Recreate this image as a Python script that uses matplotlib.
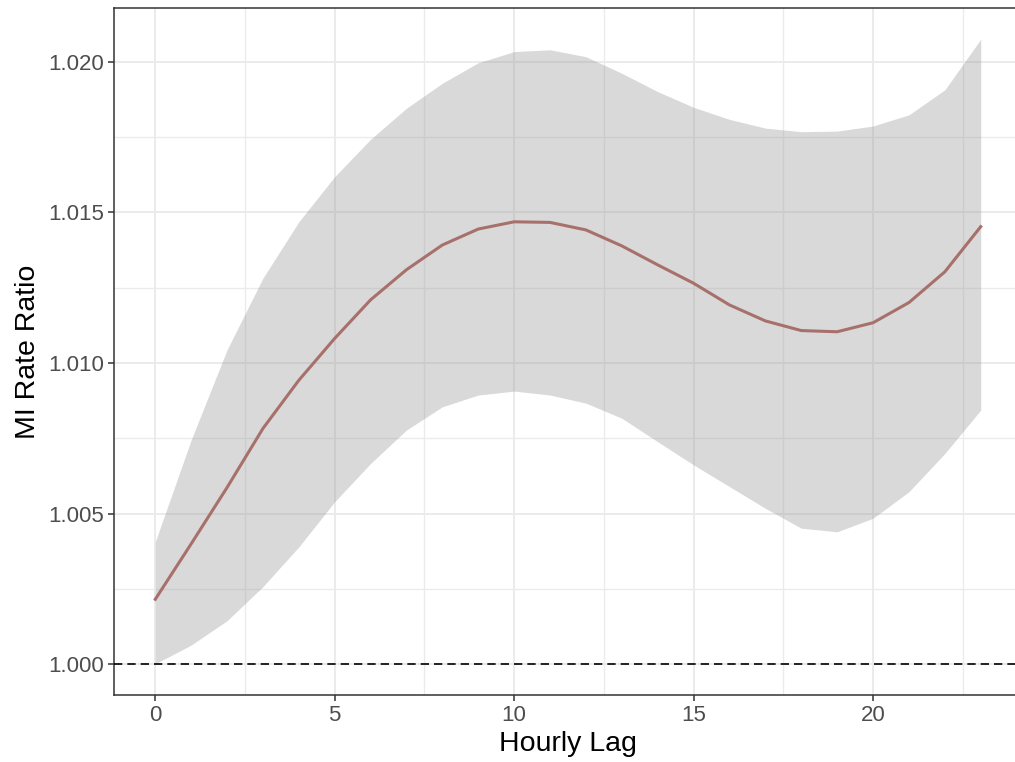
import numpy as np
import matplotlib
matplotlib.use("Agg")
import matplotlib.pyplot as plt
from matplotlib.ticker import MultipleLocator, FormatStrFormatter

plt.rcParams['font.family'] = ['Liberation Sans', 'DejaVu Sans']

# Hourly lag 0..23 with estimated rate ratio and 95% CI
lag = list(range(24))
rr = [1.00216, 1.00400, 1.00587, 1.00783, 1.00943, 1.01082, 1.01210, 1.01310,
      1.01392, 1.01445, 1.01469, 1.01467, 1.01442, 1.01389, 1.01326, 1.01265,
      1.01193, 1.01140, 1.01108, 1.01104, 1.01134, 1.01201, 1.01303, 1.01453]
rr_hi = [1.00407, 1.00745, 1.01044, 1.01282, 1.01469, 1.01619, 1.01743, 1.01846,
         1.01929, 1.01997, 1.02034, 1.02040, 1.02017, 1.01962, 1.01901, 1.01849,
         1.01809, 1.01780, 1.01768, 1.01770, 1.01787, 1.01824, 1.01907, 1.02075]
rr_lo = [1.00002, 1.00064, 1.00145, 1.00258, 1.00390, 1.00540, 1.00667, 1.00778,
         1.00855, 1.00894, 1.00907, 1.00894, 1.00867, 1.00817, 1.00739, 1.00662,
         1.00590, 1.00518, 1.00452, 1.00440, 1.00485, 1.00573, 1.00700, 1.00844]

fig = plt.figure(figsize=(10.15, 7.62), dpi=100)
ax = fig.add_axes([114 / 1015, 67 / 762, 908 / 1015, 687 / 762])

# ribbon + line
ax.fill_between(lag, rr_lo, rr_hi, color='#999999', alpha=0.37, linewidth=0, zorder=2)
ax.plot(lag, rr, color='#A8706B', lw=2.2, zorder=3)
ax.axhline(1.0, color='black', lw=1.2, linestyle=(0, (5, 3)), zorder=4)

# ggplot-like expansion of 5%
xr = max(lag) - min(lag)
ax.set_xlim(min(lag) - 0.05 * xr, max(lag) + 0.05 * xr)
ylo, yhi = min(rr_lo), max(rr_hi)
ax.set_ylim(ylo - 0.05 * (yhi - ylo), yhi + 0.05 * (yhi - ylo))

ax.xaxis.set_major_locator(MultipleLocator(5))
ax.xaxis.set_minor_locator(MultipleLocator(2.5))
ax.yaxis.set_major_locator(MultipleLocator(0.005))
ax.yaxis.set_minor_locator(MultipleLocator(0.0025))
ax.yaxis.set_major_formatter(FormatStrFormatter('%.3f'))

ax.grid(True, which='major', color='#EBEBEB', lw=1.4, zorder=0)
ax.grid(True, which='minor', color='#EBEBEB', lw=1.0, zorder=0)
ax.set_axisbelow(True)

ax.tick_params(which='major', length=4, width=1.1, color='#333333',
               labelsize=16, labelcolor='#4D4D4D', pad=3)
ax.tick_params(which='minor', length=0)
for s in ax.spines.values():
    s.set_color('#333333')
    s.set_linewidth(1.1)

ax.set_xlabel('Hourly Lag', fontsize=20.5, labelpad=4)
ax.set_ylabel('MI Rate Ratio', fontsize=20.5, labelpad=5)

fig.savefig('out.png', dpi=100)
